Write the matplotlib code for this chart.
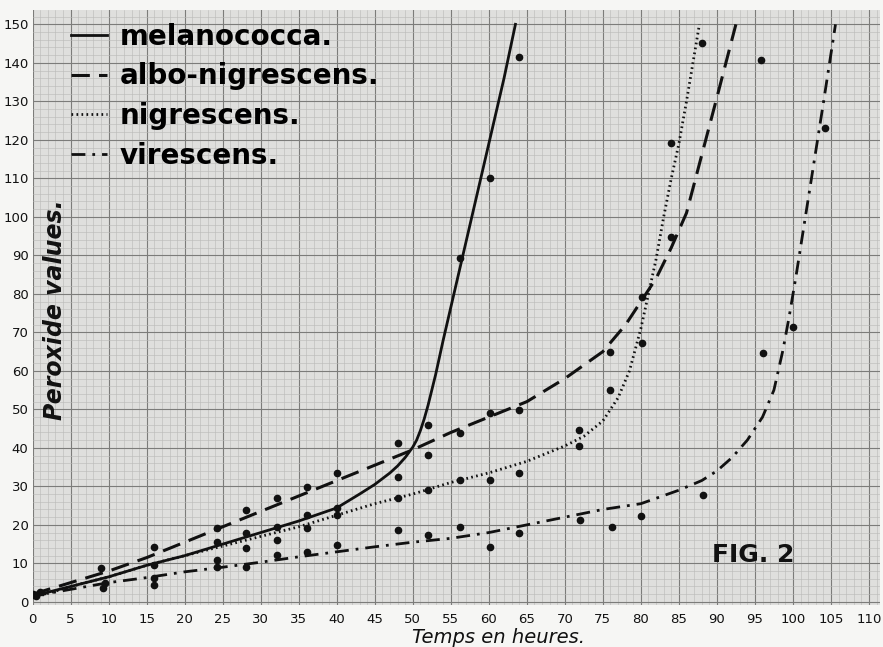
from matplotlib import pyplot as plt
import matplotlib.ticker as plticker
import numpy as np

# curves (hours, peroxide value)
melano_t = [0, 5, 10, 15, 20, 25, 30, 35, 40, 43, 45, 47, 48, 49, 50, 50.5, 51, 51.5, 52, 53, 54, 56, 58, 60, 62, 63.5]
melano_v = [1.5, 4, 6.5, 9.5, 12, 15, 18, 21, 24.4, 28, 30.5, 33.5, 35.3, 37.5, 40.2, 42, 44.5, 47.5, 51, 59, 68, 85, 102, 119, 136, 150]

albo_t = [0, 5, 10, 15, 20, 25, 30, 35, 40, 45, 50, 55, 60, 65, 70, 75, 78, 80, 82, 84, 86, 88, 90, 92.5]
albo_v = [2, 5, 8, 11.5, 15.5, 19.5, 23.5, 27.5, 31.5, 35.5, 39.5, 44, 48, 52, 58, 65, 72, 78, 84, 92, 101, 116, 131, 150]

nigr_t = [0, 5, 10, 15, 20, 25, 30, 35, 40, 45, 50, 55, 60, 65, 70, 72.5, 75, 77, 78.5, 80, 81, 82, 83, 84, 85, 86, 87.7]
nigr_v = [1, 4, 6.5, 9.5, 12, 14.5, 17, 19.5, 22.5, 25.5, 28, 31, 33.5, 36.5, 40.5, 43, 47, 53, 60, 71, 80, 89, 100, 110, 119, 130, 150]

vir_t = [0, 10, 15, 20, 25, 30, 35, 40, 45, 50, 55, 60, 65, 70, 75, 80, 85, 88, 90, 92, 94, 96, 97.5, 98.7, 99.5, 100.4, 101, 102, 103, 104, 105.6]
vir_v = [1.5, 5, 6.3, 7.8, 9, 10.3, 11.7, 13, 14.3, 15.5, 16.5, 18, 20, 22, 24, 25.5, 29, 31.5, 34, 37.5, 42, 48, 55, 65.5, 74, 84.5, 92, 104.5, 117, 129.5, 150]

# measured points (all drawn as black dots)
obs_t = [0, 0.5, 1, 9.3, 9, 9.5, 16, 16, 16, 16, 24.3, 24.3, 24.3, 24.3, 28.1, 28.1, 28.1, 28.1,
         32.2, 32.2, 32.2, 32.2, 36.1, 36.1, 36.1, 36.1, 40, 40, 40, 40,
         48.1, 48.1, 48.1, 48.1, 52, 52, 52, 52, 56.2, 56.2, 56.2, 56.2,
         60.1, 60.1, 60.1, 60.1, 64, 64, 64, 64, 71.9, 71.9, 72, 76, 76, 76.2,
         80.1, 80.1, 80, 84, 84, 88.1, 88.2, 95.8, 96.1, 100, 104.2]
obs_v = [2, 1.5, 2.5, 3.6, 8.8, 5, 14.3, 9.6, 6.2, 4.4, 19.3, 15.6, 10.9, 9, 23.9, 17.9, 14, 9,
         27, 19.5, 16.1, 12.2, 29.9, 22.6, 19.2, 13, 33.5, 24.4, 22.6, 14.8,
         41.3, 32.5, 27, 18.7, 46, 38.2, 29.1, 17.4, 89.4, 43.9, 31.7, 19.5,
         110, 49, 31.7, 14.3, 141.6, 49.9, 33.5, 17.9, 44.7, 40.5, 21.3, 65, 55, 19.5,
         79.2, 67.3, 22.2, 119.2, 94.8, 145.2, 27.8, 140.8, 64.7, 71.4, 123.1]

labels = ['melanococca.', 'albo-nigrescens.', 'nigrescens.', 'virescens.']
x_ticks = list(range(0, 111, 5))
y_ticks = list(range(0, 151, 10))

fig = plt.figure(figsize=(8.83, 6.47), dpi=100, facecolor='#f6f6f4')
ax = fig.add_axes([0.037, 0.065, 0.96, 0.92])
ax.set_facecolor('#dfdfdd')

ax.set_xlim(0, 111.5)
ax.set_ylim(-0.8, 153.8)
ax.xaxis.set_minor_locator(plticker.MultipleLocator(1))
ax.yaxis.set_minor_locator(plticker.MultipleLocator(2))
ax.set_xticks(x_ticks)
ax.set_yticks(y_ticks)
ax.grid(which='minor', color='#b9b9b7', linewidth=0.4)
ax.grid(which='major', color='#7c7c7a', linewidth=0.8)
ax.set_axisbelow(True)
ax.tick_params(which='both', length=0, labelsize=9.5, colors='#111111')
ax.tick_params(axis='x', pad=6)
ax.tick_params(axis='y', pad=3)
for s in ax.spines.values():
    s.set_visible(False)

k = '#111111'
l1, = ax.plot(melano_t, melano_v, color=k, lw=2, linestyle='solid')
l2, = ax.plot(albo_t, albo_v, color=k, lw=2.2, linestyle=(0, (6, 3)))
l3, = ax.plot(nigr_t, nigr_v, color=k, lw=2, linestyle=(0, (0.6, 1.2)), dash_capstyle='butt')
l4, = ax.plot(vir_t, vir_v, color=k, lw=2, linestyle=(0, (5, 2.5, 1, 2.5)))
ax.plot(obs_t, obs_v, 'o', color=k, ms=4.5, linestyle='none')

ax.legend([l1, l2, l3, l4], labels, loc='upper left', bbox_to_anchor=(0.016, 1.02),
          frameon=False, handlelength=1.3, handletextpad=0.45, labelspacing=0.42,
          prop={'size': 20, 'weight': 'bold'})

ax.text(3, 76, 'Peroxide values.', rotation=90, ha='center', va='center',
        fontsize=17, style='italic', fontweight='bold', color=k)
ax.text(94.8, 12.2, 'FIG. 2', ha='center', va='center', fontsize=18, fontweight='bold', color=k)
ax.set_xlabel('Temps en heures.', fontsize=14, style='italic', labelpad=2, color=k)
ax.xaxis.set_label_coords(0.55, -0.038)

plt.savefig('out.png', dpi=100, facecolor=fig.get_facecolor())
